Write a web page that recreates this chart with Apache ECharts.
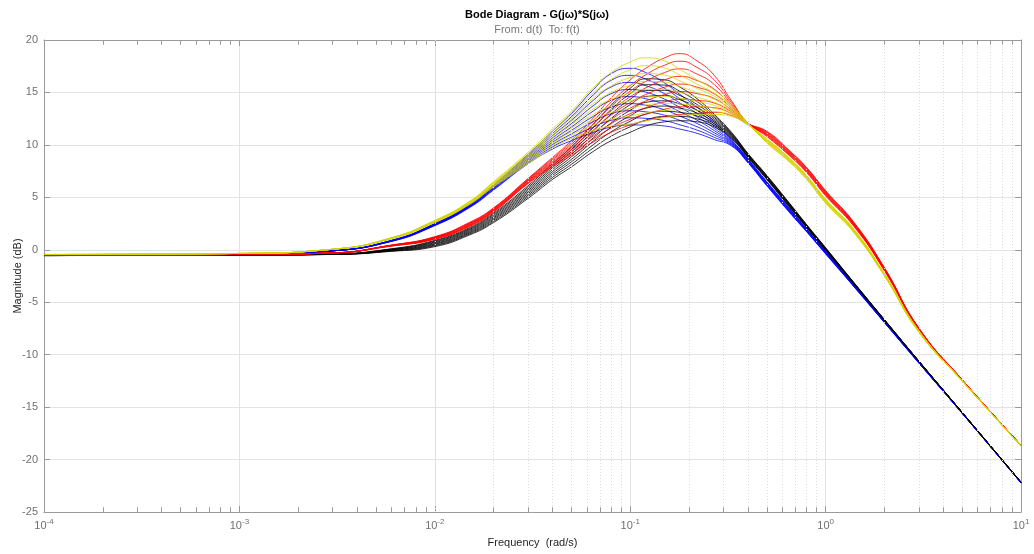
<!DOCTYPE html>
<html>
<head>
<meta charset="utf-8">
<title>Bode Diagram - G(jω)*S(jω)</title>
<script src="https://cdn.jsdelivr.net/npm/echarts@6/dist/echarts.min.js"></script>
<style>
  html, body { margin: 0; padding: 0; background: #fff; }
  #chart { width: 1034px; height: 554px; }
</style>
</head>
<body>
<div id="chart"></div>
<script>
const freq = [0.0001, 0.001, 0.003, 0.006, 0.01, 0.015, 0.02, 0.03, 0.04, 0.05, 0.065, 0.08, 0.1, 0.12, 0.15,
  0.18, 0.22, 0.27, 0.33, 0.4, 0.5, 0.65, 0.8, 1, 1.4, 2, 3, 5, 10];

// magnitude (dB), one row per curve, highest peak first
const blueMag = [
  [-0.5,-0.45,-0.1,0.9,2.5,4.3,6.2,9.1,11.3,13.0,15.3,16.8,17.3,16.9,15.9,14.8,13.6,12.2,10.5,8.7,6.5,4.0,2.0,-0.1,-3.35,-6.8,-10.7,-15.55,-22.2],
  [-0.5,-0.45,-0.1,0.89,2.48,4.26,6.14,8.99,11.09,12.68,14.79,16.16,16.63,16.28,15.39,14.39,13.29,11.99,10.43,8.65,6.45,3.95,1.96,-0.14,-3.38,-6.82,-10.71,-15.56,-22.2],
  [-0.5,-0.45,-0.1,0.88,2.45,4.23,6.08,8.88,10.88,12.35,14.28,15.53,15.95,15.65,14.88,13.98,12.98,11.78,10.35,8.6,6.4,3.9,1.93,-0.18,-3.4,-6.84,-10.73,-15.56,-22.2],
  [-0.5,-0.45,-0.1,0.86,2.43,4.19,6.01,8.76,10.66,12.03,13.76,14.89,15.28,15.03,14.36,13.56,12.66,11.56,10.28,8.55,6.35,3.85,1.89,-0.21,-3.43,-6.86,-10.74,-15.57,-22.21],
  [-0.5,-0.45,-0.1,0.85,2.4,4.15,5.95,8.65,10.45,11.7,13.25,14.25,14.6,14.4,13.85,13.15,12.35,11.35,10.2,8.5,6.3,3.8,1.85,-0.25,-3.45,-6.88,-10.75,-15.57,-22.21],
  [-0.5,-0.45,-0.1,0.84,2.38,4.11,5.89,8.54,10.24,11.38,12.74,13.61,13.93,13.78,13.34,12.74,12.04,11.14,10.13,8.45,6.25,3.75,1.81,-0.29,-3.48,-6.89,-10.76,-15.58,-22.21],
  [-0.5,-0.45,-0.1,0.83,2.35,4.08,5.83,8.43,10.03,11.05,12.23,12.98,13.25,13.15,12.83,12.33,11.73,10.93,10.05,8.4,6.2,3.7,1.78,-0.33,-3.5,-6.91,-10.78,-15.59,-22.22],
  [-0.5,-0.45,-0.1,0.81,2.33,4.04,5.76,8.31,9.81,10.73,11.71,12.34,12.58,12.53,12.31,11.91,11.41,10.71,9.98,8.35,6.15,3.65,1.74,-0.36,-3.53,-6.93,-10.79,-15.59,-22.22],
  [-0.5,-0.45,-0.1,0.8,2.3,4.0,5.7,8.2,9.6,10.4,11.2,11.7,11.9,11.9,11.8,11.5,11.1,10.5,9.9,8.3,6.1,3.6,1.7,-0.4,-3.55,-6.95,-10.8,-15.6,-22.22]
];

const blackMag = [
  [-0.55,-0.5,-0.4,0.1,0.9,2.1,3.5,6.1,8.2,9.8,12.0,13.8,15.4,16.3,16.2,15.5,14.4,12.9,11.2,9.2,7.1,4.5,2.4,0.2,-3.15,-6.65,-10.6,-15.5,-22.15],
  [-0.55,-0.5,-0.41,0.07,0.83,2.01,3.39,5.95,8.01,9.56,11.68,13.38,14.88,15.74,15.7,15.1,14.13,12.75,11.13,9.15,7.05,4.45,2.36,0.17,-3.17,-6.66,-10.61,-15.5,-22.15],
  [-0.55,-0.5,-0.41,0.04,0.75,1.93,3.28,5.8,7.83,9.33,11.35,12.95,14.35,15.18,15.2,14.7,13.85,12.6,11.05,9.1,7.0,4.4,2.33,0.14,-3.19,-6.68,-10.61,-15.51,-22.16],
  [-0.55,-0.5,-0.42,0.01,0.68,1.84,3.16,5.65,7.64,9.09,11.03,12.53,13.83,14.61,14.7,14.3,13.58,12.45,10.98,9.05,6.95,4.35,2.29,0.11,-3.21,-6.69,-10.62,-15.51,-22.16],
  [-0.55,-0.5,-0.43,-0.03,0.6,1.75,3.05,5.5,7.45,8.85,10.7,12.1,13.3,14.05,14.2,13.9,13.3,12.3,10.9,9.0,6.9,4.3,2.25,0.08,-3.23,-6.7,-10.63,-15.51,-22.16],
  [-0.55,-0.5,-0.43,-0.06,0.53,1.66,2.94,5.35,7.26,8.61,10.38,11.68,12.78,13.49,13.7,13.5,13.03,12.15,10.83,8.95,6.85,4.25,2.21,0.04,-3.24,-6.71,-10.63,-15.51,-22.16],
  [-0.55,-0.5,-0.44,-0.09,0.45,1.58,2.83,5.2,7.08,8.38,10.05,11.25,12.25,12.93,13.2,13.1,12.75,12.0,10.75,8.9,6.8,4.2,2.18,0.01,-3.26,-6.73,-10.64,-15.52,-22.17],
  [-0.55,-0.5,-0.44,-0.12,0.38,1.49,2.71,5.05,6.89,8.14,9.73,10.83,11.73,12.36,12.7,12.7,12.48,11.85,10.68,8.85,6.75,4.15,2.14,-0.02,-3.28,-6.74,-10.64,-15.52,-22.17],
  [-0.55,-0.5,-0.45,-0.15,0.3,1.4,2.6,4.9,6.7,7.9,9.4,10.4,11.2,11.8,12.2,12.3,12.2,11.7,10.6,8.8,6.7,4.1,2.1,-0.05,-3.3,-6.75,-10.65,-15.52,-22.17]
];

const redMag = [
  [-0.5,-0.45,-0.3,0.45,1.25,2.6,4.0,6.8,8.8,10.4,12.6,14.5,16.2,17.3,18.3,18.7,18.0,16.6,14.2,12.1,10.8,9.0,7.35,5.15,2.2,-2.0,-7.6,-12.44,-18.66],
  [-0.5,-0.45,-0.3,0.44,1.22,2.55,3.95,6.74,8.69,10.23,12.31,14.09,15.66,16.68,17.6,17.98,17.38,16.16,14.03,12.09,10.86,9.06,7.41,5.21,2.25,-1.96,-7.58,-12.43,-18.66],
  [-0.5,-0.45,-0.3,0.43,1.19,2.5,3.9,6.68,8.58,10.05,12.03,13.68,15.13,16.05,16.9,17.25,16.75,15.73,13.85,12.08,10.93,9.13,7.48,5.28,2.3,-1.93,-7.56,-12.43,-18.65],
  [-0.5,-0.45,-0.3,0.41,1.16,2.45,3.85,6.61,8.46,9.88,11.74,13.26,14.59,15.43,16.2,16.53,16.13,15.29,13.68,12.06,10.99,9.19,7.54,5.34,2.35,-1.89,-7.54,-12.42,-18.65],
  [-0.5,-0.45,-0.3,0.4,1.13,2.4,3.8,6.55,8.35,9.7,11.45,12.85,14.05,14.8,15.5,15.8,15.5,14.85,13.5,12.05,11.05,9.25,7.6,5.4,2.4,-1.85,-7.53,-12.41,-18.65],
  [-0.5,-0.45,-0.3,0.39,1.09,2.35,3.75,6.49,8.24,9.53,11.16,12.44,13.51,14.18,14.8,15.08,14.88,14.41,13.33,12.04,11.11,9.31,7.66,5.46,2.45,-1.81,-7.51,-12.4,-18.64],
  [-0.5,-0.45,-0.3,0.38,1.06,2.3,3.7,6.43,8.13,9.35,10.88,12.03,12.98,13.55,14.1,14.35,14.25,13.98,13.15,12.03,11.18,9.38,7.73,5.53,2.5,-1.78,-7.49,-12.4,-18.64],
  [-0.5,-0.45,-0.3,0.36,1.03,2.25,3.65,6.36,8.01,9.18,10.59,11.61,12.44,12.93,13.4,13.63,13.63,13.54,12.98,12.01,11.24,9.44,7.79,5.59,2.55,-1.74,-7.47,-12.39,-18.63],
  [-0.5,-0.45,-0.3,0.35,1.0,2.2,3.6,6.3,7.9,9.0,10.3,11.2,11.9,12.3,12.7,12.9,13.0,13.1,12.8,12.0,11.3,9.5,7.85,5.65,2.6,-1.7,-7.45,-12.38,-18.63]
];

const yellowMag = [
  [-0.45,-0.35,0.05,1.15,2.8,4.6,6.5,9.3,11.5,13.2,15.5,16.9,17.9,18.3,18.0,17.2,16.2,15.2,13.8,12.1,10.2,8.4,6.7,4.45,1.6,-2.5,-7.85,-12.52,-18.72],
  [-0.45,-0.35,0.05,1.14,2.78,4.56,6.44,9.16,11.28,12.88,14.99,16.26,17.16,17.55,17.33,16.65,15.79,14.91,13.66,12.08,10.25,8.45,6.75,4.5,1.64,-2.47,-7.83,-12.51,-18.72],
  [-0.45,-0.35,0.05,1.13,2.75,4.53,6.38,9.03,11.05,12.55,14.48,15.63,16.43,16.8,16.65,16.1,15.38,14.63,13.53,12.05,10.3,8.5,6.8,4.55,1.69,-2.44,-7.81,-12.51,-18.71],
  [-0.45,-0.35,0.05,1.11,2.73,4.49,6.31,8.89,10.83,12.23,13.96,14.99,15.69,16.05,15.98,15.55,14.96,14.34,13.39,12.03,10.35,8.55,6.85,4.6,1.73,-2.41,-7.79,-12.5,-18.71],
  [-0.45,-0.35,0.05,1.1,2.7,4.45,6.25,8.75,10.6,11.9,13.45,14.35,14.95,15.3,15.3,15.0,14.55,14.05,13.25,12.0,10.4,8.6,6.9,4.65,1.78,-2.38,-7.78,-12.5,-18.71],
  [-0.45,-0.35,0.05,1.09,2.68,4.41,6.19,8.61,10.38,11.58,12.94,13.71,14.21,14.55,14.63,14.45,14.14,13.76,13.11,11.98,10.45,8.65,6.95,4.7,1.82,-2.34,-7.76,-12.49,-18.7],
  [-0.45,-0.35,0.05,1.08,2.65,4.38,6.13,8.48,10.15,11.25,12.43,13.08,13.48,13.8,13.95,13.9,13.73,13.48,12.98,11.95,10.5,8.7,7.0,4.75,1.86,-2.31,-7.74,-12.48,-18.7],
  [-0.45,-0.35,0.05,1.06,2.63,4.34,6.06,8.34,9.93,10.93,11.91,12.44,12.74,13.05,13.28,13.35,13.31,13.19,12.84,11.93,10.55,8.75,7.05,4.8,1.91,-2.28,-7.72,-12.48,-18.69],
  [-0.45,-0.35,0.05,1.05,2.6,4.3,6.0,8.2,9.7,10.6,11.4,11.8,12.0,12.3,12.6,12.8,12.9,12.9,12.7,11.9,10.6,8.8,7.1,4.85,1.95,-2.25,-7.7,-12.47,-18.69]
];

const lineColors = ['#0000ff', '#000000', '#ff0000', '#d4d400'];

const chart = echarts.init(document.getElementById('chart'));

// minor decade positions 2..9 for the dotted grid and the small ticks
const minorX = [];
for (let e = -4; e < 1; e++) {
  for (let m = 2; m <= 9; m++) minorX.push(+(m * Math.pow(10, e)).toPrecision(3));
}

const curves = [];
[blueMag, blackMag, redMag, yellowMag].forEach((rows, f) => {
  rows.forEach(row => {
    curves.push({
      type: 'line',
      data: row.map((m, i) => [freq[i], m]),
      symbol: 'none',
      smooth: 0.5,
      silent: true,
      lineStyle: { width: 1, color: lineColors[f], opacity: 0.8 },
      z: 3
    });
  });
});

// dotted minor grid + minor ticks on bottom/top edges
const gridSeries = {
  type: 'line',
  data: [],
  silent: true,
  z: 1,
  markLine: {
    silent: true,
    symbol: 'none',
    animation: false,
    label: { show: false },
    lineStyle: { color: '#dcdcdc', type: [1, 2], width: 1 },
    data: minorX.map(v => ({ xAxis: v }))
  }
};
const tickSeries = {
  type: 'line',
  data: [],
  silent: true,
  z: 2,
  markLine: {
    silent: true,
    symbol: 'none',
    animation: false,
    label: { show: false },
    lineStyle: { color: '#9a9a9a', type: 'solid', width: 1 },
    data: minorX.flatMap(v => [
      [{ coord: [v, -25] }, { coord: [v, -24.55] }],
      [{ coord: [v, 20] }, { coord: [v, 19.55] }]
    ])
  }
};

const xLabel = {
  color: '#707070',
  margin: 6,
  formatter: v => '{b|10}{e|' + Math.round(Math.log10(v)) + '}',
  rich: {
    b: { fontSize: 11, fontFamily: 'Liberation Sans', color: '#707070' },
    e: { fontSize: 8, fontFamily: 'Liberation Sans', color: '#707070', padding: [0, 0, 7, 0] }
  }
};

const axisGray = '#9a9a9a';

chart.setOption({
  animation: false,
  backgroundColor: '#ffffff',
  textStyle: { fontFamily: 'Liberation Sans' },
  title: {
    text: 'Bode Diagram - G(jω)*S(jω)',
    subtext: 'From: d(t)  To: f(t)',
    left: 532,
    textAlign: 'center',
    top: 4,
    itemGap: 4,
    textStyle: { fontSize: 11, fontWeight: 'bold', color: '#000' },
    subtextStyle: { fontSize: 11, color: '#777' }
  },
  grid: { left: 44, right: 13, top: 40, bottom: 42, outerBoundsMode: 'none', containLabel: false },
  xAxis: [{
    type: 'log',
    logBase: 10,
    min: 0.0001,
    max: 10,
    name: 'Frequency  (rad/s)',
    nameLocation: 'middle',
    nameGap: 25,
    nameTextStyle: { fontSize: 11, color: '#262626' },
    axisLine: { onZero: false, lineStyle: { color: axisGray } },
    axisTick: { inside: true, length: 6, lineStyle: { color: axisGray } },
    axisLabel: xLabel,
    splitLine: { show: true, lineStyle: { color: '#e3e3e3', width: 1 } }
  }, {
    type: 'log',
    logBase: 10,
    min: 0.0001,
    max: 10,
    position: 'top',
    axisLine: { onZero: false, lineStyle: { color: axisGray } },
    axisTick: { inside: true, length: 6, lineStyle: { color: axisGray } },
    axisLabel: { show: false },
    splitLine: { show: false }
  }],
  yAxis: [{
    type: 'value',
    min: -25,
    max: 20,
    interval: 5,
    name: 'Magnitude (dB)',
    nameLocation: 'middle',
    nameGap: 21,
    nameMoveOverlap: false,
    nameTextStyle: { fontSize: 11, color: '#262626' },
    axisLine: { show: true, onZero: false, lineStyle: { color: axisGray } },
    axisTick: { show: true, inside: true, length: 6, lineStyle: { color: axisGray } },
    axisLabel: { fontSize: 11, color: '#707070', margin: 6 },
    splitLine: { show: true, lineStyle: { color: '#e3e3e3', width: 1 } }
  }, {
    type: 'value',
    min: -25,
    max: 20,
    interval: 5,
    position: 'right',
    axisLine: { show: true, onZero: false, lineStyle: { color: axisGray } },
    axisTick: { show: true, inside: true, length: 6, lineStyle: { color: axisGray } },
    axisLabel: { show: false },
    splitLine: { show: false }
  }],
  series: [gridSeries, tickSeries].concat(curves)
});
</script>
</body>
</html>
